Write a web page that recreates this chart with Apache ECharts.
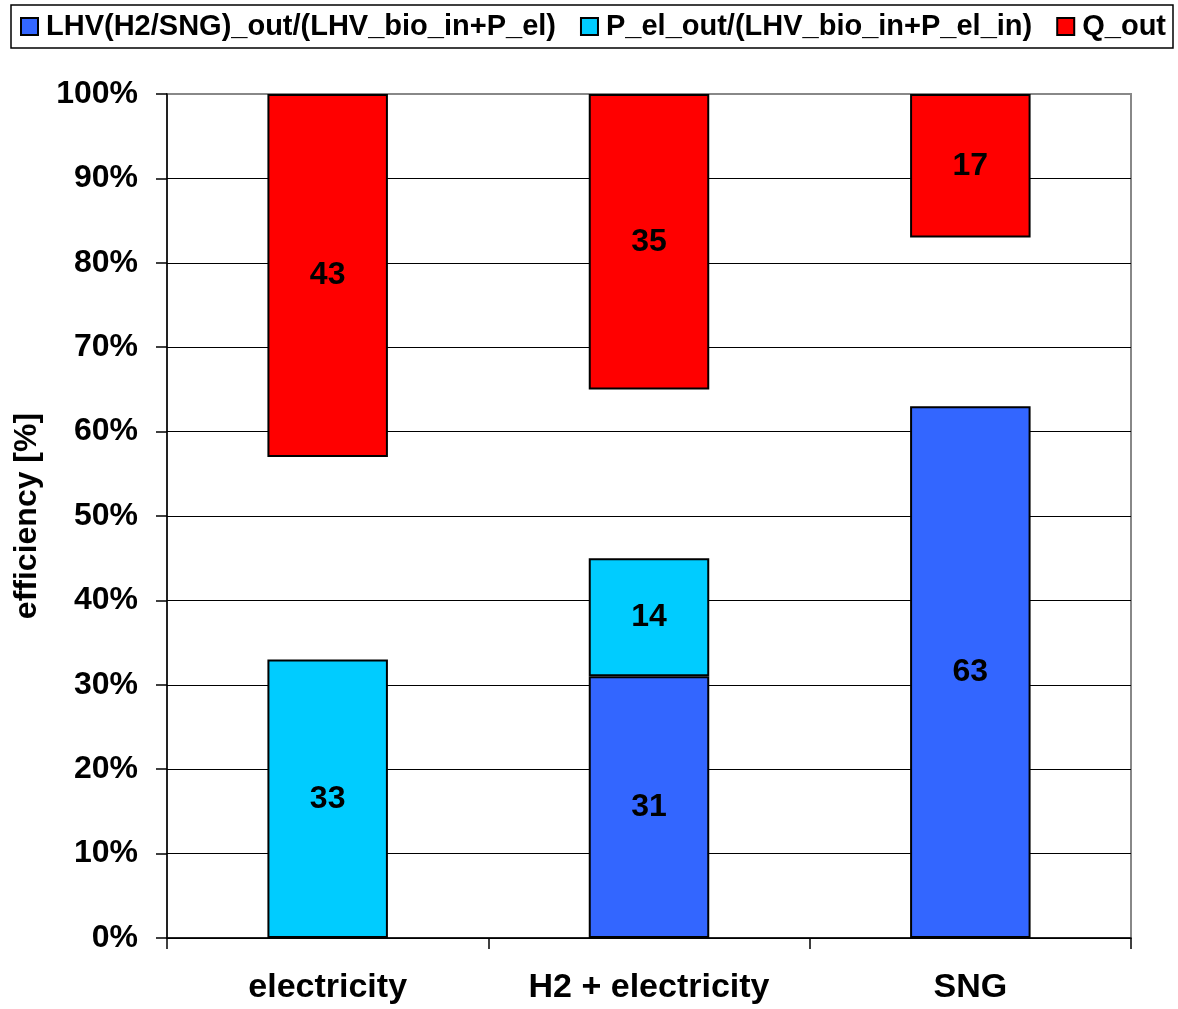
<!DOCTYPE html>
<html>
<head>
<meta charset="utf-8">
<script src="https://cdn.jsdelivr.net/npm/echarts@6/dist/echarts.min.js"></script>
<style>
  html, body { margin: 0; padding: 0; background: #fff; }
  #chart { width: 1178px; height: 1009px; }
</style>
</head>
<body>
<div id="chart"></div>
<script>
// categories and values (percent)
const categories = ['electricity', 'H2 + electricity', 'SNG']
const lhvOut = ['-', 31, 63]      // LHV(H2/SNG)_out/(LHV_bio_in+P_el)
const pElOut = [33, 14, '-']      // P_el_out/(LHV_bio_in+P_el_in)
const gapBelowQ = [24, 20, 20]    // empty space under the heat bar
const qOut = [43, 35, 17]         // Q_out
const yTicks = [0, 10, 20, 30, 40, 50, 60, 70, 80, 90, 100]

const font = 'Liberation Sans, Arial, sans-serif'
const chart = echarts.init(document.getElementById('chart'))

// grid lines: black, the top one grey like the plot border
const splitColors = yTicks.map(v => (v === 100 ? '#888888' : '#000000'))

const barLabel = {
  show: true,
  position: 'inside',
  color: '#000',
  fontFamily: font,
  fontWeight: 'bold',
  fontSize: 32
}

const option = {
  animation: false,
  backgroundColor: '#fff',
  legend: {
    data: ['LHV(H2/SNG)_out/(LHV_bio_in+P_el)', 'P_el_out/(LHV_bio_in+P_el_in)', 'Q_out'],
    left: 11,
    top: 5,
    padding: [7, 7, 7, 9],
    borderColor: '#000',
    borderWidth: 1.5,
    itemWidth: 17,
    itemHeight: 17,
    itemGap: 24,
    icon: 'rect',
    textStyle: {
      color: '#000',
      fontFamily: font,
      fontWeight: 'bold',
      fontSize: 29,
      padding: [0, 0, 0, 3]
    }
  },
  grid: {
    left: 167,
    right: 47,
    top: 94,
    bottom: 71,
    show: true,
    borderColor: '#888888',
    borderWidth: 2,
    backgroundColor: '#fff'
  },
  xAxis: {
    type: 'category',
    data: categories,
    axisLine: { lineStyle: { color: '#000', width: 1.5 } },
    axisTick: { show: true, length: 11, lineStyle: { color: '#000', width: 1.5 } },
    axisLabel: {
      color: '#000',
      fontFamily: font,
      fontWeight: 'bold',
      fontSize: 34,
      margin: 33
    }
  },
  yAxis: {
    type: 'value',
    min: 0,
    max: 100,
    interval: 10,
    name: 'efficiency [%]',
    nameLocation: 'middle',
    nameGap: 124,
    nameTextStyle: {
      color: '#000',
      fontFamily: font,
      fontWeight: 'bold',
      fontSize: 32
    },
    axisLine: { show: true, lineStyle: { color: '#000', width: 1.5 } },
    axisTick: { show: true, length: 11, lineStyle: { color: '#000', width: 1.5 } },
    axisLabel: {
      color: '#000',
      fontFamily: font,
      fontWeight: 'bold',
      fontSize: 32,
      margin: 29,
      formatter: '{value}%'
    },
    splitLine: { show: true, lineStyle: { color: splitColors, width: 1 } }
  },
  series: [
    {
      name: 'LHV(H2/SNG)_out/(LHV_bio_in+P_el)',
      type: 'bar',
      stack: 'eff',
      barWidth: '37.5%',
      data: lhvOut,
      itemStyle: { color: '#3366ff', borderColor: '#000', borderWidth: 2 },
      label: barLabel
    },
    {
      name: 'P_el_out/(LHV_bio_in+P_el_in)',
      type: 'bar',
      stack: 'eff',
      data: pElOut,
      itemStyle: { color: '#00ccff', borderColor: '#000', borderWidth: 2 },
      label: barLabel
    },
    {
      name: 'gap',
      type: 'bar',
      stack: 'eff',
      data: gapBelowQ,
      silent: true,
      itemStyle: { color: 'rgba(0,0,0,0)', borderWidth: 0 },
      label: { show: false }
    },
    {
      name: 'Q_out',
      type: 'bar',
      stack: 'eff',
      data: qOut,
      itemStyle: { color: '#ff0000', borderColor: '#000', borderWidth: 2 },
      label: barLabel
    }
  ]
}

chart.setOption(option)
</script>
</body>
</html>
